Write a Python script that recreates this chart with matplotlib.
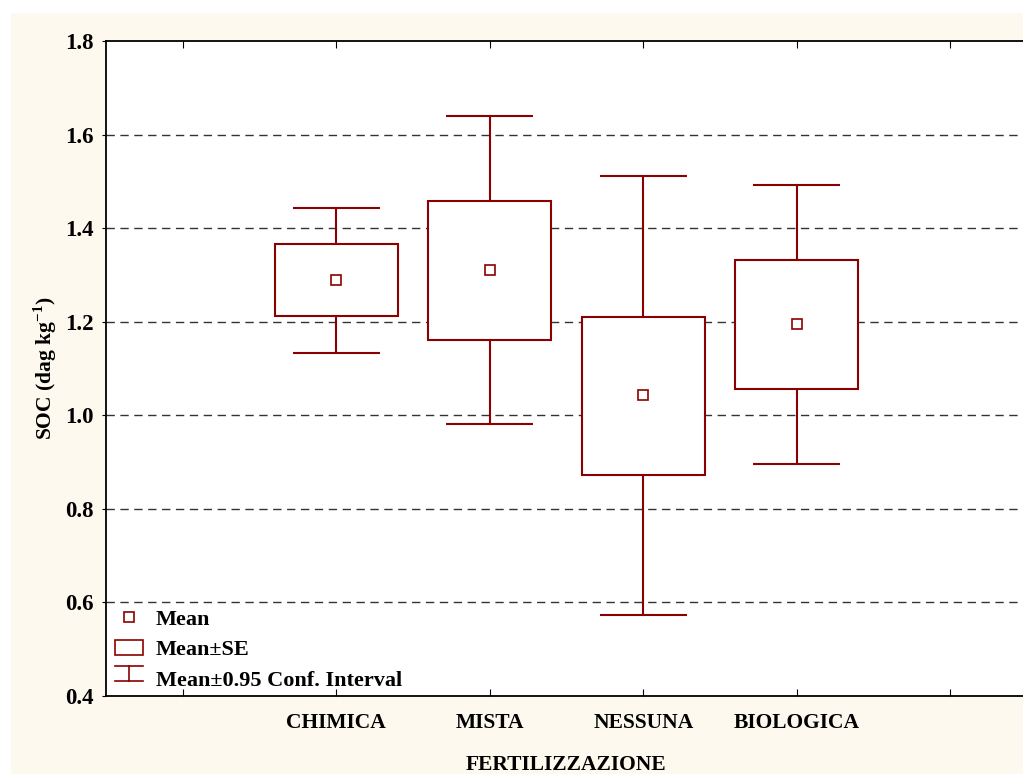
import matplotlib
matplotlib.use("Agg")
import matplotlib.pyplot as plt
from matplotlib.patches import Patch, Rectangle
from matplotlib.lines import Line2D
from matplotlib.legend_handler import HandlerBase

# Dati
categorie = ["CHIMICA", "MISTA", "NESSUNA", "BIOLOGICA"]
posizioni = [1, 2, 3, 4]
media = [1.289, 1.311, 1.043, 1.195]
se_alto = [1.366, 1.458, 1.210, 1.332]
se_basso = [1.212, 1.161, 0.872, 1.056]
ci_alto = [1.443, 1.640, 1.511, 1.492]
ci_basso = [1.133, 0.981, 0.573, 0.896]

rosso = "#8B0000"
plt.rcParams["font.family"] = ["Liberation Serif", "DejaVu Serif"]
plt.rcParams["font.weight"] = "bold"
plt.rcParams["mathtext.fontset"] = "custom"
plt.rcParams["mathtext.rm"] = "Liberation Serif:bold"
plt.rcParams["mathtext.bf"] = "Liberation Serif:bold"


class HandlerCI(HandlerBase):
    # simbolo "I" per l'intervallo di confidenza
    def create_artists(self, legend, orig_handle, xd, yd, width, height, fontsize, trans):
        x0, x1 = -xd, width - xd
        xc = (x0 + x1) / 2
        y0 = yd + 0.3 * height
        y1 = y0 + height
        kw = dict(color=rosso, linewidth=1.2, transform=trans)
        return [Line2D([xc, xc], [y0, y1], **kw),
                Line2D([x0, x1], [y0, y0], **kw),
                Line2D([x0, x1], [y1, y1], **kw)]


fig = plt.figure(figsize=(10.23, 7.74), dpi=100)
fig.patches.append(Rectangle((11 / 1023, 0), 1, 1 - 13 / 774, transform=fig.transFigure,
                             facecolor="#FEF9EF", edgecolor="none", zorder=-10))
ax = fig.add_axes([106 / 1023, 78 / 774, 921 / 1023, 655 / 774])
ax.set_facecolor("white")

# Box Mean±SE
ax.bar(posizioni, [a - b for a, b in zip(se_alto, se_basso)], bottom=se_basso, width=0.8,
       facecolor="white", edgecolor=rosso, linewidth=1.5, zorder=3)
# baffi Mean±0.95 CI
ax.vlines(posizioni, se_alto, ci_alto, color=rosso, linewidth=1.5, zorder=3)
ax.vlines(posizioni, ci_basso, se_basso, color=rosso, linewidth=1.5, zorder=3)
ax.hlines(ci_alto, [p - 0.285 for p in posizioni], [p + 0.285 for p in posizioni],
          color=rosso, linewidth=1.5, zorder=3)
ax.hlines(ci_basso, [p - 0.285 for p in posizioni], [p + 0.285 for p in posizioni],
          color=rosso, linewidth=1.5, zorder=3)
# media
ax.plot(posizioni, media, "s", markersize=6.5, markerfacecolor="white",
        markeredgecolor=rosso, markeredgewidth=1.2, linestyle="none", zorder=4)

ax.set_xlim(-0.5, 5.5)
ax.set_ylim(0.4, 1.8)
ax.set_xticks([0, 1, 2, 3, 4, 5])
ax.set_xticklabels([""] + categorie + [""])
ax.set_yticks([0.4, 0.6, 0.8, 1.0, 1.2, 1.4, 1.6, 1.8])
ax.set_yticklabels(["0.4", "0.6", "0.8", "1.0", "1.2", "1.4", "1.6", "1.8"])
ax.tick_params(axis="x", direction="in", top=True, length=5, labelsize=15.5, pad=12)
ax.tick_params(axis="y", direction="out", length=3, labelsize=16.5, pad=6)
for y in [0.6, 0.8, 1.0, 1.2, 1.4, 1.6]:
    ax.axhline(y, color="#333333", linewidth=1.0, linestyle=(0, (6, 4)), zorder=1)
for s in ax.spines.values():
    s.set_linewidth(1.3)

ax.set_xlabel("FERTILIZZAZIONE", fontsize=15.5, fontweight="bold", labelpad=16)
ax.set_ylabel("SOC (dag kg$^{-1}$)", fontsize=15.5, fontweight="bold", labelpad=4)

# Legenda
handles = [
    Line2D([], [], marker="s", markersize=6.5, markerfacecolor="white", markeredgecolor=rosso,
           markeredgewidth=1.2, linestyle="none"),
    Patch(facecolor="white", edgecolor=rosso, linewidth=1.2),
    "ci",
]
ax.legend(handles, ["Mean", "Mean±SE", "Mean±0.95 Conf. Interval"], loc="lower left",
          bbox_to_anchor=(0.0, -0.006), frameon=False, prop={"size": 16, "weight": "bold"},
          handlelength=1.25, handletextpad=0.6, labelspacing=0.45, borderaxespad=0.0,
          borderpad=0.4, handler_map={str: HandlerCI()})

fig.savefig("out.png", dpi=100)
